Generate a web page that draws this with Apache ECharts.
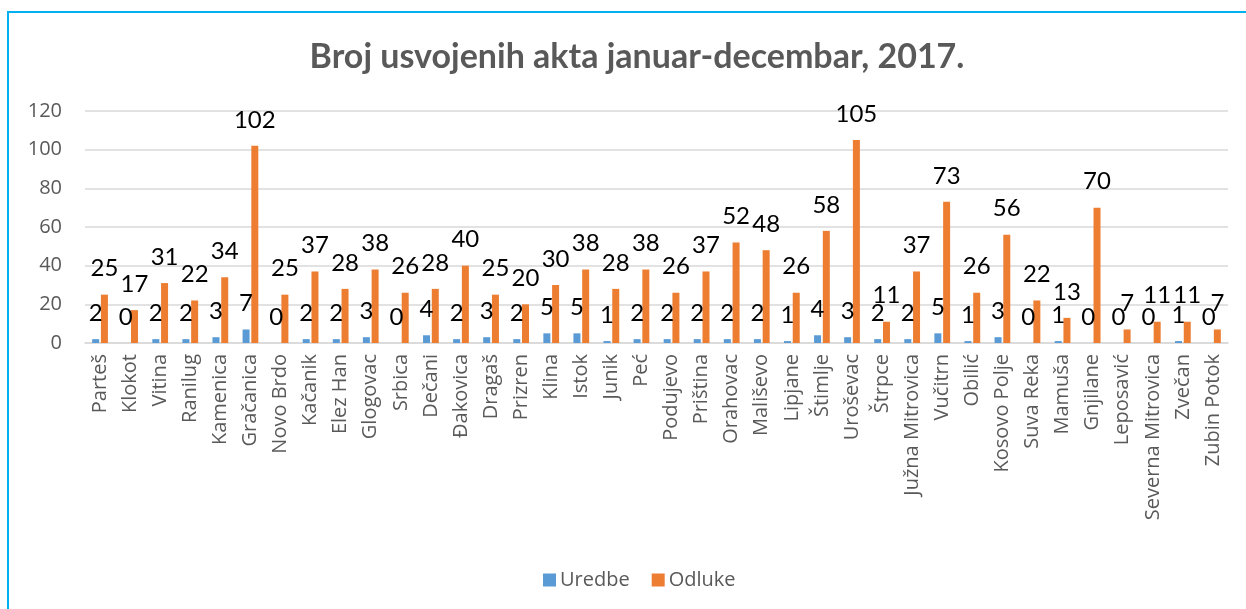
<!DOCTYPE html>
<html><head><meta charset="utf-8">
<script src="https://cdn.jsdelivr.net/npm/echarts@6/dist/echarts.min.js"></script>
<style>html,body{margin:0;padding:0;background:#fff}#c{width:1246px;height:609px}</style>
</head><body><div id="c"></div>
<script>
const categories = ["Parteš","Klokot","Vitina","Ranilug","Kamenica","Gračanica","Novo Brdo","Kačanik","Elez Han","Glogovac","Srbica","Dečani","Đakovica","Dragaš","Prizren","Klina","Istok","Junik","Peć","Podujevo","Priština","Orahovac","Mališevo","Lipjane","Štimlje","Uroševac","Štrpce","Južna Mitrovica","Vučitrn","Obilić","Kosovo Polje","Suva Reka","Mamuša","Gnjilane","Leposavić","Severna Mitrovica","Zvečan","Zubin Potok"];
const uredbe = [2,0,2,2,3,7,0,2,2,3,0,4,2,3,2,5,5,1,2,2,2,2,2,1,4,3,2,2,5,1,3,0,1,0,0,0,1,0];
const odluke = [25,17,31,22,34,102,25,37,28,38,26,28,40,25,20,30,38,28,38,26,37,52,48,26,58,105,11,37,73,26,56,22,13,70,7,11,11,7];
const yTicks = [0,20,40,60,80,100,120];

const UI = '"Open Sans", sans-serif';
const NUM = '"Liberation Sans Narrow", Lato, sans-serif';
const chart = echarts.init(document.getElementById('c'));
const lbl = {show:true, position:'top', distance:14, color:'#000', fontSize:24, fontFamily:NUM};
chart.setOption({
  animation:false,
  title:{text:'Broj usvojenih akta januar-decembar, 2017.', left:632, top:35, textAlign:'center',
    textStyle:{fontSize:34, fontWeight:'bold', color:'#595959', fontFamily:'Lato, sans-serif'}},
  legend:{top:565, left:538, itemWidth:13, itemHeight:13, itemGap:22, icon:'rect',
    textStyle:{fontSize:20, color:'#595959', fontFamily:UI, padding:[0,0,0,-1]}},
  grid:{left:85, right:18, top:111, bottom:266},
  xAxis:{type:'category', data:categories,
    axisLine:{lineStyle:{color:'#d9d9d9', width:1.5}}, axisTick:{show:false},
    axisLabel:{rotate:90, interval:0, color:'#595959', fontSize:20, fontFamily:UI, margin:11}},
  yAxis:{type:'value', min:yTicks[0], max:yTicks[yTicks.length-1], interval:20,
    axisLine:{show:false}, axisTick:{show:false},
    splitLine:{lineStyle:{color:'#d9d9d9', width:1.5}},
    axisLabel:{color:'#595959', fontSize:20, fontFamily:UI, margin:23}},
  graphic:[{type:'rect', shape:{x:8,y:12,width:1260,height:620}, style:{fill:null, stroke:'#00B0F0', lineWidth:2}, silent:true, z:-1}],
  series:[
    {name:'Uredbe', type:'bar', data:uredbe, barWidth:7, barGap:'25%', itemStyle:{color:'#5B9BD5'}, label:lbl},
    {name:'Odluke', type:'bar', data:odluke, barWidth:7, itemStyle:{color:'#ED7D31'}, label:lbl}
  ]
});
</script></body></html>
